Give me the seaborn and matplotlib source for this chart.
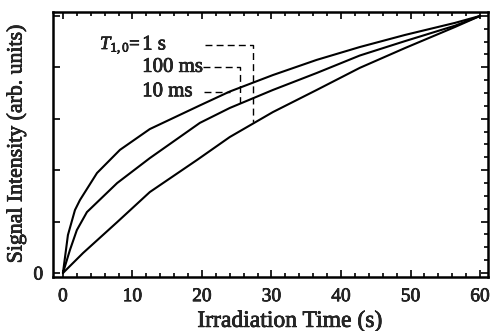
import numpy as np
import pandas as pd
import matplotlib
matplotlib.use("Agg")
import matplotlib.pyplot as plt
import matplotlib.patheffects as pe
from matplotlib.ticker import MultipleLocator, FixedLocator
import seaborn as sns

# ---- data ----
t_10ms = [0, 0.72, 1.73, 2.45, 4.9, 8.2, 12.5, 19.7, 24.0, 30.2, 36.5, 42.7, 49.2, 56.4, 60]
s_10ms = [0, 0.148, 0.245, 0.284, 0.389, 0.479, 0.560, 0.652, 0.706, 0.770, 0.829, 0.879, 0.926, 0.973, 1.0]

t_100ms = [0, 1.0, 2.0, 3.45, 7.8, 12.5, 19.7, 24.0, 30.2, 36.5, 42.7, 49.2, 56.4, 60]
s_100ms = [0, 0.089, 0.167, 0.237, 0.350, 0.447, 0.584, 0.642, 0.712, 0.778, 0.846, 0.902, 0.962, 1.0]

t_1s = [0, 2.9, 7.8, 12.5, 19.3, 24.0, 30.2, 36.5, 42.7, 49.2, 56.4, 60]
s_1s = [0, 0.078, 0.198, 0.315, 0.440, 0.529, 0.626, 0.712, 0.798, 0.875, 0.957, 1.0]

series_labels = ["10 ms", "100 ms", "1 s"]
x_ticks = [0, 10, 20, 30, 40, 50, 60]
x_ticklabels = ["0", "10", "20", "30", "40", "50", "60"]

# annotation leaders: (x_start, x_end, y_level, y_curve)
lead_1s = (20.4, 27.3, 0.887, 0.588)
lead_100ms = (20.1, 25.5, 0.800, 0.661)
lead_10ms = (20.3, 24.0, 0.705)

df = pd.concat([
    pd.DataFrame({"t": t_10ms, "s": s_10ms, "T": series_labels[0]}),
    pd.DataFrame({"t": t_100ms, "s": s_100ms, "T": series_labels[1]}),
    pd.DataFrame({"t": t_1s, "s": s_1s, "T": series_labels[2]}),
])

sns.set_style("ticks")
plt.rcParams["font.family"] = ["Liberation Serif", "DejaVu Serif"]
plt.rcParams["mathtext.fontset"] = "custom"
plt.rcParams["mathtext.rm"] = "Liberation Serif"
plt.rcParams["mathtext.it"] = "Liberation Serif:italic"

fig = plt.figure(figsize=(4.9, 3.31), dpi=100)
ax = fig.add_axes([0.108, 0.163, 0.888, 0.801])

sns.lineplot(data=df, x="t", y="s", hue="T", units="T", estimator=None, sort=False,
             palette=["black"] * 3, linewidth=1.5, legend=False, ax=ax)

dash = dict(color="black", lw=1.0, dashes=(5, 3))
x0, x1, yl, yc = lead_1s
ax.plot([x0, x1, x1], [yl, yl, yc], **dash)
x0, x1, yl, yc = lead_100ms
ax.plot([x0, x1, x1], [yl, yl, yc], **dash)
x0, x1, yl = lead_10ms
ax.plot([x0, x1], [yl, yl], **dash)

heavy = [pe.withStroke(linewidth=0.5, foreground="black")]

fs_ann = 15
texts = []
texts.append(ax.text(11.2, lead_1s[2], r"$T_{1,0}$=", ha="right", va="center", fontsize=13.5))
texts.append(ax.text(11.4, lead_1s[2], series_labels[2], ha="left", va="center", fontsize=fs_ann))
texts.append(ax.text(11.4, lead_100ms[2], series_labels[1], ha="left", va="center", fontsize=fs_ann))
texts.append(ax.text(11.4, lead_10ms[2], series_labels[0], ha="left", va="center", fontsize=fs_ann))

ax.set_xlim(-1.44, 61.15)
ax.set_ylim(-0.0156, 1.0156)
ax.xaxis.set_major_locator(FixedLocator(x_ticks))
ax.set_xticklabels(x_ticklabels)
ax.xaxis.set_minor_locator(MultipleLocator(2))
ax.yaxis.set_major_locator(FixedLocator([0, 0.2, 0.4, 0.6, 0.8, 1.0]))
ax.set_yticklabels(["0", "", "", "", "", ""])
ax.yaxis.set_minor_locator(MultipleLocator(0.05))

ax.tick_params(axis="x", which="both", direction="in", top=True, bottom=True,
               labelsize=14, pad=8, width=1.2, color="black")
ax.tick_params(axis="x", which="major", length=5)
ax.tick_params(axis="x", which="minor", length=3)
ax.tick_params(axis="y", which="major", direction="in", left=True, right=True,
               length=5, width=1.2, labelsize=14, pad=7, color="black")
ax.tick_params(axis="y", which="minor", direction="in", left=False, right=True,
               length=3, width=1.2, color="black")

for sp in ax.spines.values():
    sp.set_linewidth(1.8)
    sp.set_color("black")
    sp.set_visible(True)

ax.set_xlabel("Irradiation Time (s)", fontsize=17, labelpad=4, x=0.545)
ax.set_ylabel("Signal Intensity (arb. units)", fontsize=15.7, labelpad=5)

for t in texts + ax.get_xticklabels() + ax.get_yticklabels() + [ax.xaxis.label, ax.yaxis.label]:
    t.set_path_effects(heavy)

fig.savefig("out.png", dpi=100)
